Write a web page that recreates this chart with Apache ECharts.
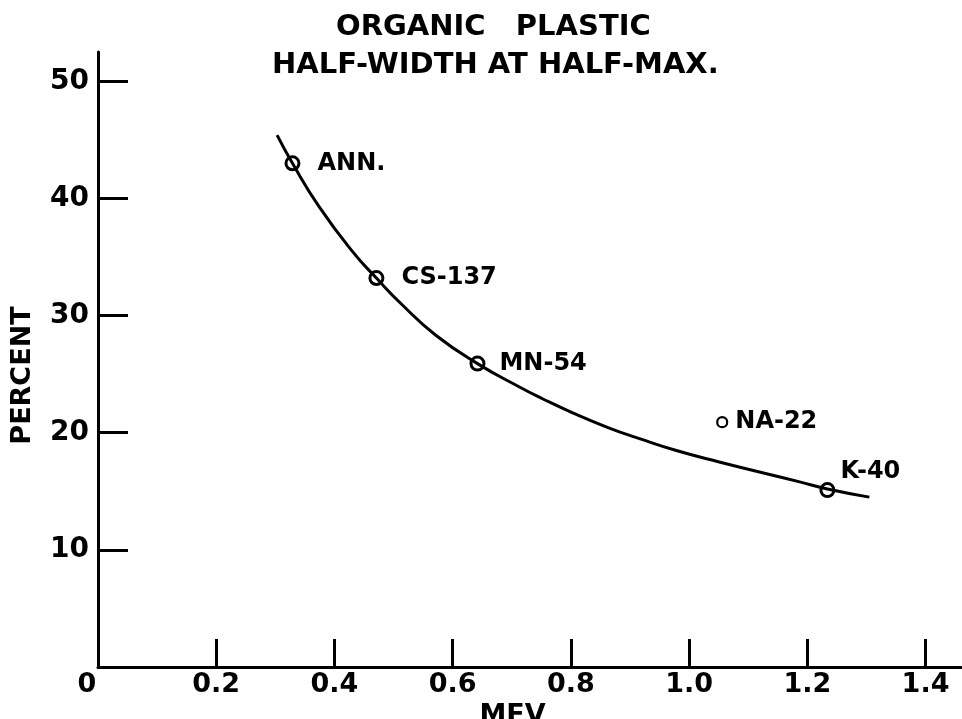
<!DOCTYPE html>
<html>
<head>
<meta charset="utf-8">
<script src="https://cdn.jsdelivr.net/npm/echarts@6/dist/echarts.min.js"></script>
<style>
  html, body { margin: 0; padding: 0; background: #fff; }
  #chart { width: 962px; height: 719px; }
</style>
</head>
<body>
<div id="chart"></div>
<script>
// measured sources (circles)
var sourceNames = ['ANN.', 'CS-137', 'MN-54', 'NA-22', 'K-40'];
var sourceMev = [0.329, 0.471, 0.642, 1.056, 1.234];
var sourcePct = [43.0, 33.2, 25.9, 20.9, 15.1];

// hand drawn curve
var curveMev = [0.303, 0.329, 0.374, 0.430, 0.471, 0.515, 0.572, 0.642, 0.713, 0.752,
  0.803, 0.865, 0.916, 0.977, 1.051, 1.131, 1.187, 1.234, 1.305];
var curvePct = [45.4, 43.0, 39.3, 35.5, 33.2, 30.9, 28.3, 25.9, 23.9, 22.9,
  21.7, 20.4, 19.5, 18.5, 17.5, 16.5, 15.8, 15.2, 14.5];

var xTicks = [0.2, 0.4, 0.6, 0.8, 1.0, 1.2, 1.4];
var xLabels = [0, 0.2, 0.4, 0.6, 0.8, 1.0, 1.2, 1.4];
var yTicks = [10, 20, 30, 40, 50];

var font = 'DejaVu Sans';

// label placement per source
var labelStyle = {
  'ANN.': { distance: 17 },
  'CS-137': { distance: 17 },
  'MN-54': { distance: 14 },
  'NA-22': { distance: 7 },
  'K-40': { distance: 5, offset: [0, -18] }
};

var curveData = curveMev.map(function (x, i) { return [x, curvePct[i]]; });
var pointData = sourceNames.map(function (n, i) {
  var small = n === 'NA-22';
  return {
    name: n,
    value: [sourceMev[i], sourcePct[i]],
    symbolSize: small ? 10 : 13,
    itemStyle: { borderWidth: small ? 2.2 : 3 },
    label: labelStyle[n]
  };
});

var chart = echarts.init(document.getElementById('chart'));

var option = {
  backgroundColor: '#fff',
  animation: false,
  title: [
    {
      text: 'ORGANIC   PLASTIC',
      left: 336, top: 12, padding: 0,
      textStyle: { fontFamily: font, fontSize: 29, fontWeight: 'bold', color: '#000', lineHeight: 30 }
    },
    {
      text: 'HALF-WIDTH AT HALF-MAX.',
      left: 272, top: 50, padding: 0,
      textStyle: { fontFamily: font, fontSize: 29, fontWeight: 'bold', color: '#000', lineHeight: 30 }
    }
  ],
  grid: { left: 98, right: 1, top: 52, bottom: 52, containLabel: false, outerBoundsMode: 'none' },
  xAxis: {
    type: 'value',
    min: 0,
    max: 1.46,
    name: 'MEV',
    nameLocation: 'middle',
    nameGap: 31,
    nameTextStyle: { fontFamily: font, fontSize: 27, fontWeight: 'bold', color: '#000', padding: [0, 34, 0, 0] },
    axisLine: { show: true, onZero: false, lineStyle: { color: '#000', width: 3 } },
    axisTick: { show: true, inside: true, length: 28, customValues: xTicks, lineStyle: { color: '#000', width: 3 } },
    axisLabel: {
      customValues: xLabels,
      margin: 4,
      fontFamily: font, fontSize: 27, fontWeight: 'bold', color: '#000',
      formatter: function (v) { return v === 0 ? '{z|0}' : v.toFixed(1); },
      rich: { z: { fontFamily: font, fontSize: 27, fontWeight: 'bold', color: '#000', padding: [0, 22, 0, 0] } }
    },
    splitLine: { show: false }
  },
  yAxis: {
    type: 'value',
    min: 0,
    max: 52.5,
    name: 'PERCENT',
    nameLocation: 'middle',
    nameRotate: 90,
    nameGap: 62,
    nameTextStyle: { fontFamily: font, fontSize: 27, fontWeight: 'bold', color: '#000', padding: [0, 32, 0, 0] },
    axisLine: { show: true, onZero: false, lineStyle: { color: '#000', width: 3 } },
    axisTick: { show: true, inside: true, length: 30, customValues: yTicks, lineStyle: { color: '#000', width: 3 } },
    axisLabel: {
      customValues: yTicks,
      margin: 9,
      fontFamily: font, fontSize: 28, fontWeight: 'bold', color: '#000'
    },
    splitLine: { show: false }
  },
  series: [
    {
      type: 'line',
      data: curveData,
      smooth: 0.5,
      showSymbol: false,
      symbol: 'none',
      lineStyle: { color: '#000', width: 3 },
      z: 2
    },
    {
      type: 'scatter',
      data: pointData,
      symbol: 'circle',
      itemStyle: { color: 'rgba(0,0,0,0)', borderColor: '#000', opacity: 1 },
      label: {
        show: true,
        position: 'right',
        formatter: '{b}',
        fontFamily: font, fontSize: 24, fontWeight: 'bold', color: '#000'
      },
      z: 3
    }
  ]
};

chart.setOption(option);
window.addEventListener('resize', chart.resize);
</script>
</body>
</html>
